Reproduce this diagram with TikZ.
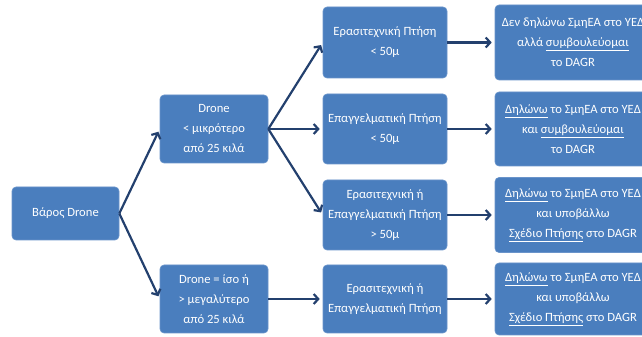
\documentclass[tikz,border=0pt]{standalone}
\usepackage{fontspec}
\setmainfont{Carlito}
\usetikzlibrary{arrows.meta}
\definecolor{boxblue}{HTML}{4A7EBE}
\definecolor{boxedge}{HTML}{6A94CA}
\definecolor{linecol}{HTML}{23406E}
\begin{document}
\begin{tikzpicture}[x=1pt,y=1pt,
  box/.style={draw=boxedge, line width=0.6pt, fill=boxblue, rounded corners=4pt,
    text=white, align=center, inner sep=0pt, font=\fontsize{12.6}{20}\selectfont},
  conn/.style={draw=linecol, line width=2.2pt,
    -{Straight Barb[length=4.5pt,width=10pt]}, shorten >=3pt}]
\useasboundingbox (0,0) rectangle (642,337);
% column 1
\node[box, minimum width=107pt, minimum height=53pt] (root) at (65.5,123.5) {Βάρος Drone};
% column 2
\node[box, minimum width=108pt, minimum height=68pt] (d1) at (214,208) {Drone\\< μικρότερο\\από 25 κιλά};
\node[box, minimum width=108pt, minimum height=68pt] (d2) at (214,38) {Drone = ίσο ή\\> μεγαλύτερο\\από 25 κιλά};
% column 3
\node[box, minimum width=124pt, minimum height=71pt] (m1) at (385,294.5) {Ερασιτεχνική Πτήση\\< 50μ};
\node[box, minimum width=124pt, minimum height=70pt] (m2) at (385,208) {Επαγγελματική Πτήση\\< 50μ};
\node[box, minimum width=124pt, minimum height=70pt] (m3) at (385,122) {Ερασιτεχνική ή\\Επαγγελματική Πτήση\\> 50μ};
\node[box, minimum width=124pt, minimum height=68pt] (m4) at (385,38) {Ερασιτεχνική ή\\Επαγγελματική Πτήση};
% column 4
\node[box, minimum width=156pt, minimum height=75pt] (r1) at (573,294.5) {Δεν δηλώνω ΣμηΕΑ στο ΥΕΔ\\αλλά \underline{συμβουλεύομαι}\\το DAGR};
\node[box, minimum width=156pt, minimum height=74pt] (r2) at (573,208) {\underline{Δηλώνω} το ΣμηΕΑ στο ΥΕΔ\\και \underline{συμβουλεύομαι}\\το DAGR};
\node[box, minimum width=156pt, minimum height=75pt] (r3) at (573,122) {\underline{Δηλώνω} το ΣμηΕΑ στο ΥΕΔ\\και υποβάλλω\\\underline{Σχέδιο Πτήσης} στο DAGR};
\node[box, minimum width=156pt, minimum height=72pt] (r4) at (573,38) {\underline{Δηλώνω} το ΣμηΕΑ στο ΥΕΔ\\και υποβάλλω\\\underline{Σχέδιο Πτήσης} στο DAGR};
% connectors
\draw[conn] (root.east) -- (d1.west);
\draw[conn] (root.east) -- (d2.west);
\draw[conn] (d1.east) -- (m1.west);
\draw[conn] (d1.east) -- (m2.west);
\draw[conn] (d1.east) -- (m3.west);
\draw[conn] (d2.east) -- (m4.west);
\draw[conn] (m1.east) -- (r1.west);
\draw[conn] (m2.east) -- (r2.west);
\draw[conn] (m3.east) -- (r3.west);
\draw[conn] (m4.east) -- (r4.west);
\end{tikzpicture}
\end{document}
